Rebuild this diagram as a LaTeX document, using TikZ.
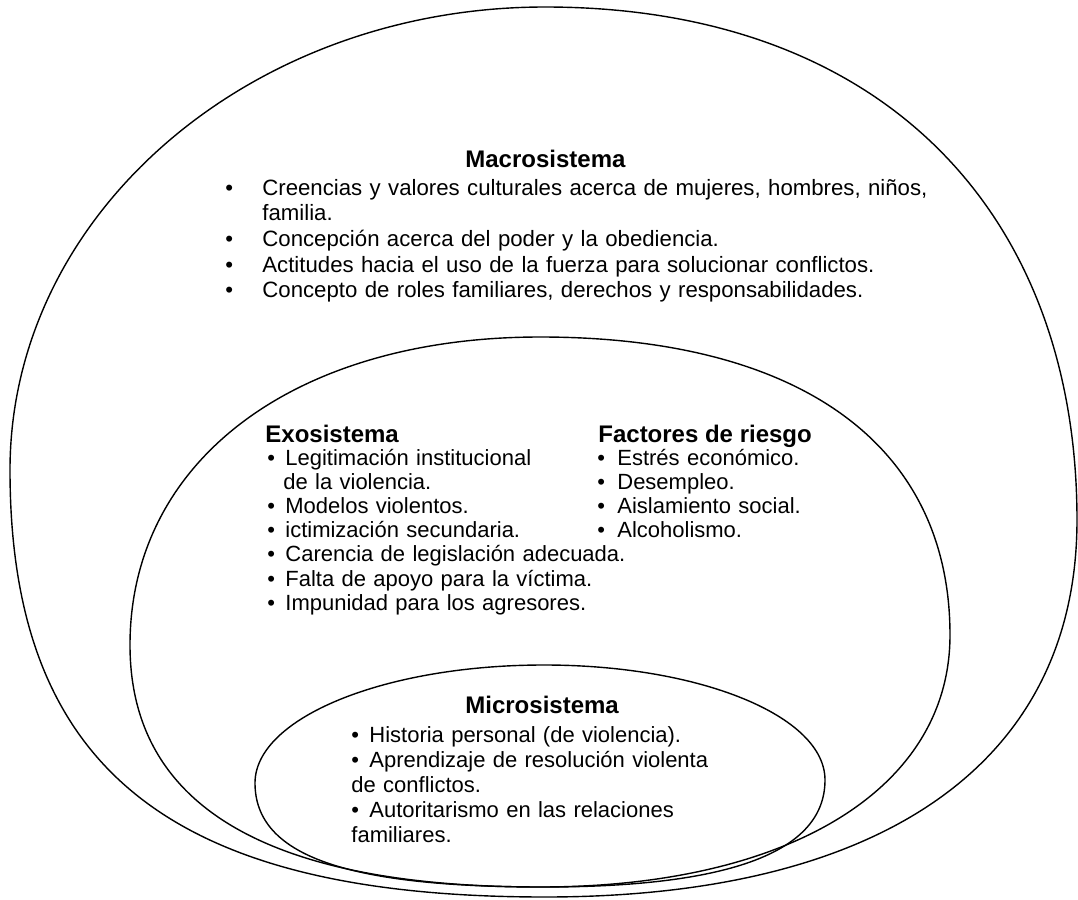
\documentclass[tikz,border=0pt]{standalone}
\usepackage{fontspec}
\setmainfont{Liberation Sans}
\usetikzlibrary{positioning}

\begin{document}
\begin{tikzpicture}[
    x=0.5pt, y=-0.5pt,
    ring/.style={draw=black, line width=0.7pt},
    sysname/.style={font=\fontsize{12}{14}\selectfont\bfseries, inner sep=0pt, anchor=base west},
    itemlist/.style={font=\fontsize{11}{12.1}\selectfont, text width=#1, align=left, inner sep=0pt}
]

\useasboundingbox (0,0) rectangle (1078,900);

% Macrosistema ring
\draw [ring] (545,7) .. controls (885,7) and (1077,215) .. (1077,520)
    .. controls (1077,761) and (885,897) .. (545,897)
    .. controls (171,897) and (10,769) .. (10,470)
    .. controls (10,214) and (250,7) .. (545,7) -- cycle;

% Exosistema ring
\draw [ring] (540,337) .. controls (803,337) and (950,447) .. (950,635)
    .. controls (950,790) and (787,887) .. (540,887)
    .. controls (269,887) and (130,807) .. (130,645)
    .. controls (130,461) and (294,337) .. (540,337) -- cycle;

% Microsistema ring
\draw [ring] (544,665) .. controls (700,665) and (825,716) .. (825,780)
    .. controls (825,852) and (730,887) .. (544,887)
    .. controls (347,887) and (255,856) .. (255,783)
    .. controls (255,718) and (384,665) .. (544,665) -- cycle;

% Macrosistema
\node (macrotitle) [sysname] at (465,167) {Macrosistema};
\node (macrolist) [itemlist=360pt, font=\fontsize{11.1}{12.85}\selectfont,
    below left=14pt and 120pt of macrotitle.base west, anchor=base west] {
    \makebox[18.5pt][l]{\textbullet}Creencias y valores culturales acerca de mujeres, hombres, niños,\\
    \hspace*{18.5pt}familia.\\
    \makebox[18.5pt][l]{\textbullet}Concepción acerca del poder y la obediencia.\\
    \makebox[18.5pt][l]{\textbullet}Actitudes hacia el uso de la fuerza para solucionar conflictos.\\
    \makebox[18.5pt][l]{\textbullet}Concepto de roles familiares, derechos y responsabilidades.
};

% Exosistema
\node (exotitle) [sysname] at (265,442) {Exosistema};
\node (exolist) [itemlist=200pt,
    below right=11.5pt and 1pt of exotitle.base west, anchor=base west] {
    \makebox[9pt][l]{\textbullet}Legitimación institucional\\
    \hspace*{8pt}de la violencia.\\
    \makebox[9pt][l]{\textbullet}Modelos violentos.\\
    \makebox[9pt][l]{\textbullet}ictimización secundaria.\\
    \makebox[9pt][l]{\textbullet}Carencia de legislación adecuada.\\
    \makebox[9pt][l]{\textbullet}Falta de apoyo para la víctima.\\
    \makebox[9pt][l]{\textbullet}Impunidad para los agresores.
};

% Factores de riesgo
\node (risktitle) [sysname] at (598,442) {Factores de riesgo};
\node (risklist) [itemlist=120pt,
    below left=11.5pt and 0.5pt of risktitle.base west, anchor=base west] {
    \makebox[10pt][l]{\textbullet}Estrés económico.\\
    \makebox[10pt][l]{\textbullet}Desempleo.\\
    \makebox[10pt][l]{\textbullet}Aislamiento social.\\
    \makebox[10pt][l]{\textbullet}Alcoholismo.
};

% Microsistema
\node (microtitle) [sysname] at (465,713) {Microsistema};
\node (microlist) [itemlist=200pt, font=\fontsize{11}{12.6}\selectfont,
    below left=14.5pt and 57pt of microtitle.base west, anchor=base west] {
    \makebox[9pt][l]{\textbullet}Historia personal (de violencia).\\
    \makebox[9pt][l]{\textbullet}Aprendizaje de resolución violenta\\
    de conflictos.\\
    \makebox[9pt][l]{\textbullet}Autoritarismo en las relaciones\\
    familiares.
};

\end{tikzpicture}
\end{document}
